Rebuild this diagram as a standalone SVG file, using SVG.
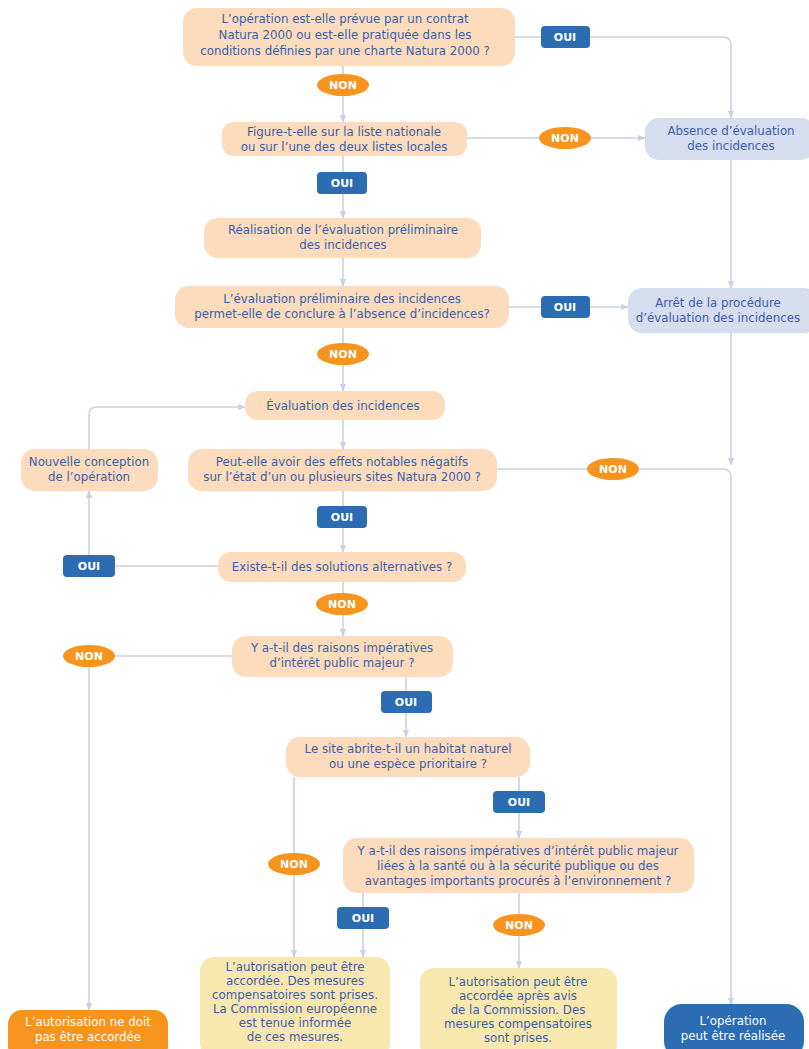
<svg xmlns="http://www.w3.org/2000/svg" width="809" height="1049" viewBox="0 0 809 1049">
<defs>
<style>
.q{fill:#fcdcbc}
.g{fill:#d6ddef}
.y{fill:#f9e7b0}
.t{font-family:"DejaVu Sans",Verdana,sans-serif;font-size:11.8px;fill:#3a5ea8;text-anchor:middle}
.w{font-family:"DejaVu Sans",Verdana,sans-serif;font-size:11.8px;fill:#ffffff;text-anchor:middle}
.b{font-family:"DejaVu Sans",Verdana,sans-serif;font-size:11px;font-weight:bold;fill:#ffffff;text-anchor:middle}
.oui{fill:#2b6cb3}
.non{fill:#f7941d}
.c{fill:none;stroke:#cad1e2;stroke-width:1.6}
</style>
<marker id="ar" viewBox="0 0 10 10" refX="9" refY="5" markerWidth="5" markerHeight="5" orient="auto">
<path d="M0,1 L10,5 L0,9 z" fill="#cad1e2"/>
</marker>
</defs>
<rect width="809" height="1049" fill="#ffffff"/>

<g id="connectors">
<path class="c" d="M515,37 H723 Q731,37 731,45 V118" marker-end="url(#ar)"/>
<path class="c" d="M343,66 V122" marker-end="url(#ar)"/>
<path class="c" d="M467,138 H645" marker-end="url(#ar)"/>
<path class="c" d="M343,156 V218" marker-end="url(#ar)"/>
<path class="c" d="M343,258 V286" marker-end="url(#ar)"/>
<path class="c" d="M509,307 H628" marker-end="url(#ar)"/>
<path class="c" d="M731,160 V288" marker-end="url(#ar)"/>
<path class="c" d="M343,328 V391" marker-end="url(#ar)"/>
<path class="c" d="M343,420 V449" marker-end="url(#ar)"/>
<path class="c" d="M731,333 V465" marker-end="url(#ar)"/>
<path class="c" d="M497,469 H723 Q731,469 731,477 V1005" marker-end="url(#ar)"/>
<path class="c" d="M343,491 V552" marker-end="url(#ar)"/>
<path class="c" d="M218,566 H89 V491" marker-end="url(#ar)"/>
<path class="c" d="M89,449 V415 Q89,407 97,407 H245" marker-end="url(#ar)"/>
<path class="c" d="M343,582 V636" marker-end="url(#ar)"/>
<path class="c" d="M232,656 H89 V1010" marker-end="url(#ar)"/>
<path class="c" d="M406,677 V737" marker-end="url(#ar)"/>
<path class="c" d="M294,777 V957" marker-end="url(#ar)"/>
<path class="c" d="M519,777 V838" marker-end="url(#ar)"/>
<path class="c" d="M363,893 V957" marker-end="url(#ar)"/>
<path class="c" d="M519,893 V968" marker-end="url(#ar)"/>
</g>

<g id="n1"><rect class="q" x="183" y="8" width="332" height="58" rx="14"/>
<text class="t" x="345" y="23">L’opération est-elle prévue par un contrat</text>
<text class="t" x="345" y="39">Natura 2000 ou est-elle pratiquée dans les</text>
<text class="t" x="345" y="55">conditions définies par une charte Natura 2000 ?</text></g>

<g id="n2"><rect class="q" x="222" y="122" width="245" height="34" rx="12"/>
<text class="t" x="344" y="136">Figure-t-elle sur la liste nationale</text>
<text class="t" x="344" y="151">ou sur l’une des deux listes locales</text></g>

<g id="n-absence"><rect class="g" x="645" y="118" width="170" height="42" rx="14"/>
<text class="t" x="731" y="135">Absence d’évaluation</text>
<text class="t" x="731" y="150">des incidences</text></g>

<g id="n3"><rect class="q" x="204" y="218" width="277" height="40" rx="14"/>
<text class="t" x="343" y="234">Réalisation de l’évaluation préliminaire</text>
<text class="t" x="343" y="249">des incidences</text></g>

<g id="n4"><rect class="q" x="175" y="286" width="334" height="42" rx="14"/>
<text class="t" x="342" y="303">L’évaluation préliminaire des incidences</text>
<text class="t" x="342" y="318">permet-elle de conclure à l’absence d’incidences?</text></g>

<g id="n-arret"><rect class="g" x="628" y="288" width="190" height="45" rx="14"/>
<text class="t" x="718" y="307">Arrêt de la procédure</text>
<text class="t" x="718" y="322">d’évaluation des incidences</text></g>

<g id="n5"><rect class="q" x="245" y="391" width="200" height="29" rx="13"/>
<text class="t" x="343" y="410">Évaluation des incidences</text></g>

<g id="n6"><rect class="q" x="188" y="449" width="309" height="42" rx="14"/>
<text class="t" x="342" y="466">Peut-elle avoir des effets notables négatifs</text>
<text class="t" x="342" y="481">sur l’état d’un ou plusieurs sites Natura 2000 ?</text></g>

<g id="n-nouvelle"><rect class="q" x="21" y="449" width="137" height="42" rx="14"/>
<text class="t" x="89" y="466">Nouvelle conception</text>
<text class="t" x="89" y="481">de l’opération</text></g>

<g id="n7"><rect class="q" x="218" y="552" width="248" height="30" rx="13"/>
<text class="t" x="342" y="571">Existe-t-il des solutions alternatives ?</text></g>

<g id="n8"><rect class="q" x="232" y="636" width="221" height="41" rx="14"/>
<text class="t" x="342" y="652">Y a-t-il des raisons impératives</text>
<text class="t" x="342" y="667">d’intérêt public majeur ?</text></g>

<g id="n9"><rect class="q" x="286" y="737" width="244" height="40" rx="14"/>
<text class="t" x="408" y="753">Le site abrite-t-il un habitat naturel</text>
<text class="t" x="408" y="768">ou une espèce prioritaire ?</text></g>

<g id="n10"><rect class="q" x="343" y="838" width="351" height="55" rx="14"/>
<text class="t" x="518" y="855">Y a-t-il des raisons impératives d’intérêt public majeur</text>
<text class="t" x="518" y="870">liées à la santé ou à la sécurité publique ou des</text>
<text class="t" x="518" y="885">avantages importants procurés à l’environnement ?</text></g>

<g id="n-refus"><rect class="non" x="8" y="1010" width="160" height="50" rx="14"/>
<text class="w" x="88" y="1026">L’autorisation ne doit</text>
<text class="w" x="88" y="1041">pas être accordée</text></g>

<g id="n-accordA"><rect class="y" x="200" y="957" width="190" height="100" rx="14"/>
<text class="t" x="295" y="971">L’autorisation peut être</text>
<text class="t" x="295" y="985">accordée. Des mesures</text>
<text class="t" x="295" y="999">compensatoires sont prises.</text>
<text class="t" x="295" y="1013">La Commission européenne</text>
<text class="t" x="295" y="1027">est tenue informée</text>
<text class="t" x="295" y="1041">de ces mesures.</text></g>

<g id="n-accordB"><rect class="y" x="420" y="968" width="197" height="90" rx="14"/>
<text class="t" x="518" y="986">L’autorisation peut être</text>
<text class="t" x="518" y="1000">accordée après avis</text>
<text class="t" x="518" y="1014">de la Commission. Des</text>
<text class="t" x="518" y="1028">mesures compensatoires</text>
<text class="t" x="518" y="1042">sont prises.</text></g>

<g id="n-realisee"><rect class="oui" x="664" y="1004" width="140" height="55" rx="18"/>
<text class="w" x="733" y="1025">L’opération</text>
<text class="w" x="733" y="1040">peut être réalisée</text></g>

<g id="labels">
<rect class="oui" x="541" y="26" width="49" height="22" rx="4"/><text class="b" x="565" y="41">OUI</text>
<ellipse class="non" cx="343" cy="85" rx="26" ry="11"/><text class="b" x="343" y="89">NON</text>
<ellipse class="non" cx="565" cy="138" rx="26" ry="11"/><text class="b" x="565" y="142">NON</text>
<rect class="oui" x="317" y="172" width="50" height="22" rx="4"/><text class="b" x="342" y="187">OUI</text>
<rect class="oui" x="541" y="296" width="49" height="22" rx="4"/><text class="b" x="565" y="311">OUI</text>
<ellipse class="non" cx="343" cy="354" rx="26" ry="11"/><text class="b" x="343" y="358">NON</text>
<ellipse class="non" cx="613" cy="469" rx="26" ry="11"/><text class="b" x="613" y="473">NON</text>
<rect class="oui" x="317" y="506" width="50" height="22" rx="4"/><text class="b" x="342" y="521">OUI</text>
<rect class="oui" x="63" y="555" width="52" height="22" rx="4"/><text class="b" x="89" y="570">OUI</text>
<ellipse class="non" cx="342" cy="604" rx="26" ry="11"/><text class="b" x="342" y="608">NON</text>
<ellipse class="non" cx="89" cy="656" rx="26" ry="11"/><text class="b" x="89" y="660">NON</text>
<rect class="oui" x="381" y="691" width="51" height="22" rx="4"/><text class="b" x="406" y="706">OUI</text>
<ellipse class="non" cx="294" cy="864" rx="26" ry="11"/><text class="b" x="294" y="868">NON</text>
<rect class="oui" x="493" y="791" width="52" height="22" rx="4"/><text class="b" x="519" y="806">OUI</text>
<rect class="oui" x="337" y="907" width="52" height="22" rx="4"/><text class="b" x="363" y="922">OUI</text>
<ellipse class="non" cx="519" cy="925" rx="26" ry="11"/><text class="b" x="519" y="929">NON</text>
</g>
</svg>
